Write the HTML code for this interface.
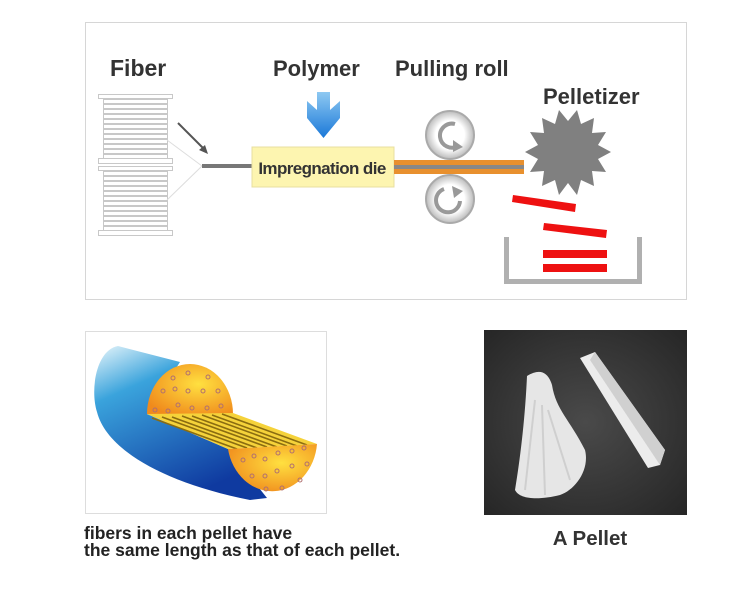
<!DOCTYPE html>
<html><head><meta charset="utf-8"><style>
html,body{margin:0;padding:0;background:#fff;}
body{width:751px;height:604px;position:relative;overflow:hidden;font-family:"Liberation Sans",sans-serif;}
</style></head><body>
<svg width="751" height="604" viewBox="0 0 751 604" xmlns="http://www.w3.org/2000/svg" style="position:absolute;left:0;top:0">
<defs>
<linearGradient id="ba" x1="0" y1="0" x2="0" y2="1"><stop offset="0" stop-color="#8ec9f2"/><stop offset="1" stop-color="#1a78d8"/></linearGradient>
<radialGradient id="rl" cx="0.5" cy="0.5" r="0.5"><stop offset="0.6" stop-color="#fff"/><stop offset="1" stop-color="#bbb"/></radialGradient>
<linearGradient id="cyl" x1="0" y1="0" x2="0.5" y2="1"><stop offset="0" stop-color="#e8f6fb"/><stop offset="0.3" stop-color="#3aa3dc"/><stop offset="1" stop-color="#0f3aa0"/></linearGradient>
<radialGradient id="face" cx="0.6" cy="0.4" r="0.7"><stop offset="0" stop-color="#ffe040"/><stop offset="1" stop-color="#f08a1c"/></radialGradient>
<radialGradient id="ph" cx="0.5" cy="0.5" r="0.7"><stop offset="0" stop-color="#4a4a4a"/><stop offset="1" stop-color="#262626"/></radialGradient>
</defs>
<rect x="85.5" y="22.5" width="601" height="277" fill="#fff" stroke="#d6d6d6"/>
<g font-weight="bold" font-size="22" fill="#333">
<text x="110" y="76" font-size="23">Fiber</text>
<text x="273" y="76">Polymer</text>
<text x="395" y="76">Pulling roll</text>
<text x="543" y="104">Pelletizer</text>
</g>
<g fill="#fff" stroke="#c8c8c8" stroke-width="1">
<rect x="98.5" y="94.5" width="74" height="4"/>
<rect x="98.5" y="158.5" width="74" height="5"/>
<rect x="98.5" y="166.5" width="74" height="4"/>
<rect x="98.5" y="230.5" width="74" height="5"/>
<g id="ln">
<rect x="103.5" y="99.5" width="64" height="4"/><rect x="103.5" y="104.5" width="64" height="4"/><rect x="103.5" y="109.5" width="64" height="4"/><rect x="103.5" y="114.5" width="64" height="4"/><rect x="103.5" y="119.5" width="64" height="4"/><rect x="103.5" y="124.5" width="64" height="4"/><rect x="103.5" y="129.5" width="64" height="4"/><rect x="103.5" y="134.5" width="64" height="4"/><rect x="103.5" y="139.5" width="64" height="4"/><rect x="103.5" y="144.5" width="64" height="4"/><rect x="103.5" y="149.5" width="64" height="4"/><rect x="103.5" y="154.5" width="64" height="4"/>
</g>
<use href="#ln" y="72"/>
</g>
<polyline points="167,140 202,166 167,200" fill="none" stroke="#ddd"/>
<line x1="178" y1="123" x2="204" y2="149" stroke="#555" stroke-width="2"/>
<polygon points="208,154 199,150 205,145" fill="#555"/>
<rect x="202" y="164" width="52" height="4" fill="#777"/>
<polygon points="317,92 330,92 330,110 340,101 340,118 323.5,138 307,118 307,101 317,110" fill="url(#ba)"/>
<rect x="252" y="147" width="142" height="40" fill="#fdf5b0" stroke="#e8dfa0"/>
<text x="322" y="174" font-size="17" font-weight="bold" fill="#333" text-anchor="middle" letter-spacing="-0.6">Impregnation die</text>
<rect x="394" y="160" width="130" height="14" fill="#e8902e"/>
<rect x="394" y="165" width="130" height="4" fill="#888"/>
<g>
<circle cx="450" cy="135" r="24" fill="url(#rl)" stroke="#aaa" stroke-width="2"/>
<path d="M455 124 A12 12 0 1 0 458 146" fill="none" stroke="#999" stroke-width="4"/>
<polygon points="453,140 463,147 453,152" fill="#999"/>
<circle cx="450" cy="199" r="24" fill="url(#rl)" stroke="#aaa" stroke-width="2"/>
<path d="M444 189 A12 12 0 1 0 460 201" fill="none" stroke="#999" stroke-width="4"/>
<polygon points="452,186 463,191 454,198" fill="#999"/>
</g>
<polygon fill="#808080" points="611,152 598,159 606,172 592,171 594,186 581,180 577,195 568,183 559,195 555,180 542,186 544,171 530,172 538,159 525,152 538,145 530,132 544,133 542,118 555,124 559,110 568,121 577,110 581,124 594,118 592,133 606,132 598,145"/>
<polygon points="513,195 576,204 575,212 512,202" fill="#ee1111"/>
<polygon points="544,223 607,230 606,238 543,230" fill="#ee1111"/>
<rect x="543" y="250" width="64" height="8" fill="#ee1111"/>
<rect x="543" y="264" width="64" height="8" fill="#ee1111"/>
<path d="M506.5 237 V281.5 H639.5 V237" fill="none" stroke="#b0b0b0" stroke-width="5"/>
<!-- bottom left -->
<rect x="85.5" y="331.5" width="241" height="182" fill="#fff" stroke="#ddd"/>
<path d="M118,346 C96,350 90,390 97,412 C106,448 160,482 250,500 L267,498 L228,449 L147,414 L180,362 Z" fill="url(#cyl)"/>
<path d="M147,414 A43 50 0 0 1 233,414 Z" fill="url(#face)"/>
<polygon points="147,414 233,413 317,444 228,449" fill="#f5d23a"/>
<g stroke="#8a6c10" stroke-width="1.6">
<line x1="152" y1="418" x2="237" y2="449"/><line x1="162" y1="417" x2="247" y2="448"/><line x1="172" y1="417" x2="257" y2="448"/><line x1="182" y1="416" x2="267" y2="447"/><line x1="192" y1="416" x2="277" y2="447"/><line x1="202" y1="415" x2="287" y2="446"/><line x1="212" y1="415" x2="297" y2="446"/><line x1="222" y1="414" x2="307" y2="445"/>
</g>
<path d="M228,449 L317,444 A45 52 0 0 1 228,449 Z" fill="url(#face)"/>
<g fill="none" stroke="#b07070" stroke-width="1">
<circle cx="173" cy="378" r="2"/><circle cx="188" cy="373" r="2"/><circle cx="208" cy="377" r="2"/><circle cx="163" cy="391" r="2"/><circle cx="175" cy="389" r="2"/><circle cx="188" cy="391" r="2"/><circle cx="203" cy="391" r="2"/><circle cx="218" cy="391" r="2"/><circle cx="155" cy="410" r="2"/><circle cx="168" cy="411" r="2"/><circle cx="178" cy="405" r="2"/><circle cx="192" cy="408" r="2"/><circle cx="207" cy="408" r="2"/><circle cx="221" cy="406" r="2"/>
<circle cx="243" cy="460" r="2"/><circle cx="254" cy="456" r="2"/><circle cx="265" cy="459" r="2"/><circle cx="278" cy="453" r="2"/><circle cx="292" cy="451" r="2"/><circle cx="304" cy="448" r="2"/><circle cx="252" cy="476" r="2"/><circle cx="265" cy="476" r="2"/><circle cx="277" cy="471" r="2"/><circle cx="292" cy="466" r="2"/><circle cx="307" cy="464" r="2"/><circle cx="300" cy="480" r="2"/><circle cx="266" cy="489" r="2"/><circle cx="282" cy="488" r="2"/>
</g>
<text x="84" y="539" font-size="17.5" font-weight="bold" fill="#222">fibers in each pellet have</text>
<text x="84" y="556" font-size="17.5" font-weight="bold" fill="#222">the same length as that of each pellet.</text>
<rect x="484" y="330" width="203" height="185" fill="url(#ph)"/>
<path d="M527 376 C540 368 548 372 552 385 C556 410 570 420 585 450 C590 470 575 490 560 495 C540 500 520 500 515 490 C520 460 525 420 527 376 Z" fill="#e6e6e6"/>
<g stroke="#cfcfcf" stroke-width="2" fill="none"><path d="M535 400 L525 490"/><path d="M542 405 L545 495"/><path d="M548 410 L570 480"/></g>
<polygon points="580,358 595,352 665,450 660,465 648,468" fill="#ececec"/>
<polygon points="595,352 665,450 660,465 590,360" fill="#d0d0d0"/>
<text x="590" y="545" font-size="20.5" font-weight="bold" fill="#333" text-anchor="middle">A Pellet</text>
</svg>
</body></html>
